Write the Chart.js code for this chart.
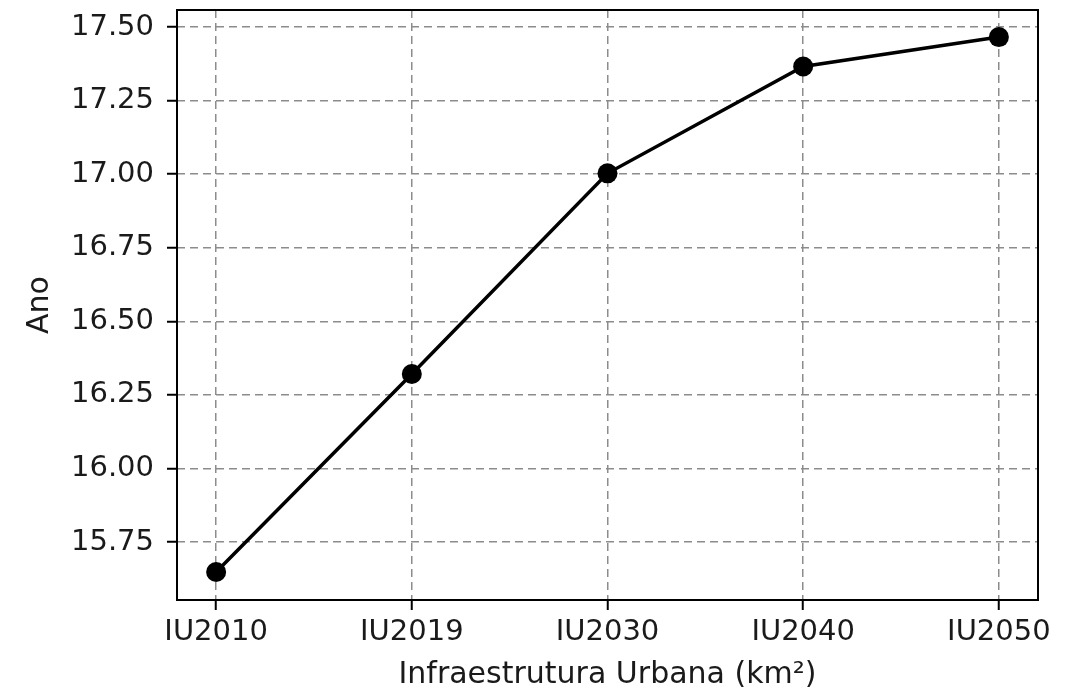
<!DOCTYPE html>
<html>
<head>
<meta charset="utf-8">
<script src="https://cdn.jsdelivr.net/npm/chart.js@4/dist/chart.umd.min.js"></script>
<style>
  html, body { margin: 0; padding: 0; background: #ffffff; }
  canvas { display: block; }
</style>
</head>
<body>
<canvas id="grafico" width="1074" height="693"></canvas>
<script>
// Rótulos das categorias (eixo x)
const categorias = ["IU2010", "IU2019", "IU2030", "IU2040", "IU2050"];
// Valores
const valores = [15.648, 16.321, 17.003, 17.366, 17.466];
// Marcas do eixo y
const ticksY = [15.75, 16.00, 16.25, 16.50, 16.75, 17.00, 17.25, 17.50];

const fonteTicks = { family: "DejaVu Sans", size: 29 };
const fonteTitulo = { family: "DejaVu Sans", size: 30 };
const corTexto = "#1a1a1a";

// Desenha a moldura completa da área do gráfico
const moldura = {
    id: "moldura",
    afterDraw(chart) {
        const { ctx, chartArea: a } = chart;
        ctx.save();
        ctx.strokeStyle = "#000000";
        ctx.lineWidth = 2;
        ctx.strokeRect(a.left, a.top, a.right - a.left, a.bottom - a.top);
        ctx.restore();
    }
};

new Chart(document.getElementById("grafico").getContext("2d"), {
    type: "line",
    data: {
        datasets: [{
            data: valores.map((v, i) => ({ x: i, y: v })),
            borderColor: "#000000",
            backgroundColor: "#000000",
            borderWidth: 3.5,
            pointRadius: 10,
            pointHoverRadius: 10,
            pointBorderWidth: 0,
            tension: 0,
            fill: false
        }]
    },
    options: {
        responsive: false,
        animation: false,
        devicePixelRatio: 1,
        layout: { padding: { left: 0, top: 10, right: 36, bottom: 0 } },
        plugins: { legend: { display: false }, tooltip: { enabled: false } },
        scales: {
            x: {
                type: "linear",
                min: -0.2,
                max: 4.2,
                afterBuildTicks: (s) => { s.ticks = categorias.map((c, i) => ({ value: i })); },
                afterFit: (s) => { s.height = 93; },
                ticks: {
                    color: corTexto,
                    font: fonteTicks,
                    padding: 5,
                    maxRotation: 0,
                    callback: (v) => categorias[v]
                },
                grid: {
                    color: "#8c8c8c",
                    lineWidth: 1.5,
                    tickLength: 10,
                    tickColor: "#000000",
                    tickWidth: 2
                },
                border: { display: false, dash: [8, 5] },
                title: {
                    display: true,
                    text: "Infraestrutura Urbana (km²)",
                    color: corTexto,
                    font: fonteTitulo,
                    padding: { top: 0, bottom: 0 }
                }
            },
            y: {
                min: 15.553,
                max: 17.558,
                afterBuildTicks: (s) => { s.ticks = ticksY.map((v) => ({ value: v })); },
                afterFit: (s) => { s.width = 177; s.paddingTop = 0; s.paddingBottom = 0; },
                ticks: {
                    color: corTexto,
                    font: fonteTicks,
                    padding: 13,
                    callback: (v) => v.toFixed(2)
                },
                grid: {
                    color: "#8c8c8c",
                    lineWidth: 1.5,
                    tickLength: 10,
                    tickColor: "#000000",
                    tickWidth: 2
                },
                border: { display: false, dash: [8, 5] },
                title: {
                    display: true,
                    text: "Ano",
                    color: corTexto,
                    font: fonteTitulo,
                    padding: { top: 22, bottom: 0 }
                }
            }
        }
    },
    plugins: [moldura]
});
</script>
</body>
</html>
